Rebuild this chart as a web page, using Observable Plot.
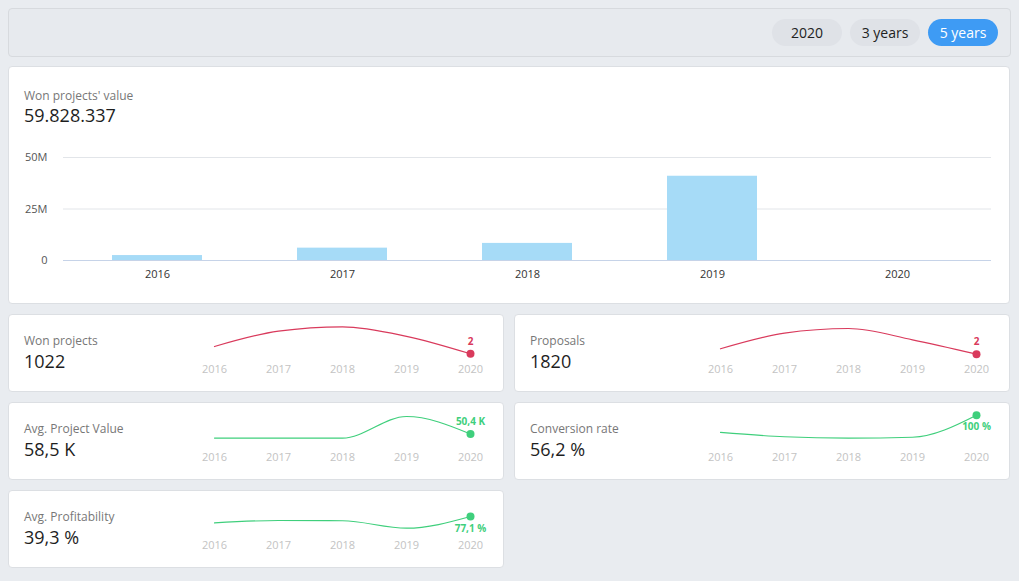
<!DOCTYPE html>
<html>
<head>
<meta charset="utf-8">
<script src="https://cdn.jsdelivr.net/npm/d3@7"></script>
<script src="https://cdn.jsdelivr.net/npm/@observablehq/plot@0.6"></script>
<style>
  html, body { margin: 0; padding: 0; background: #e9ecf0; font-family: "Open Sans", sans-serif; }
  #root { position: relative; width: 1019px; height: 581px; overflow: hidden; }
  .panel { position: absolute; box-sizing: border-box; border: 1px solid #d7dade; border-radius: 4px; }
  .card { position: absolute; box-sizing: border-box; background: #fff; border: 1px solid #dcdfe3; border-radius: 4px; }
  .btn { position: absolute; top: 10px; height: 27px; width: 70px; border-radius: 14px; font-size: 14px; line-height: 27px; text-align: center; background: #dfe2e7; color: #222; }
  .btn.active { background: #3e9bf4; color: #fff; }
  .ttl { position: absolute; left: 15px; font-size: 12px; color: #777; white-space: nowrap; }
  .val { position: absolute; left: 15px; font-size: 18px; color: #1e1e1e; white-space: nowrap; }
  .spark { position: absolute; left: 179px; top: 0; }
  .main { position: absolute; left: -1px; top: 78px; }
</style>
</head>
<body>
<div id="root"></div>
<script>
// ---------- data ----------
const years = ["2016", "2017", "2018", "2019", "2020"];
const rangeButtons = ["2020", "3 years", "5 years"];
const activeButton = "5 years";

const mainTitle = "Won projects' value";
const mainTotal = "59.828.337";
const wonValue = [2.4e6, 6.0e6, 8.3e6, 40.9e6, 0];
const mainTicks = [0, 25e6, 50e6];

const cardTitles = ["Won projects", "Proposals", "Avg. Project Value", "Conversion rate", "Avg. Profitability"];
const cardTotals = ["1022", "1820", "58,5 K", "56,2 %", "39,3 %"];
const wonProjects = [101, 310, 369, 240, 2];
const proposals = [149, 575, 701, 393, 2];
const avgProjectValue = [20.5, 19.5, 20, 177, 50.4];
const conversionRate = [64, 55, 52, 54, 100];
const avgProfitability = [53, 62, 61, 33, 77.1];
const lastLabels = ["2", "2", "50,4 K", "100 %", "77,1 %"];

// ---------- layout ----------
const RED = "#d93a5c", GREEN = "#3fcf7c";
const sparkSeries = [wonProjects, proposals, avgProjectValue, conversionRate, avgProfitability];
const sparkLayout = [
  {left: 8,   top: 314, color: RED,   below: false, yRange: [39.3, 12.3]},
  {left: 514, top: 314, color: RED,   below: false, yRange: [39.7, 14]},
  {left: 8,   top: 402, color: GREEN, below: false, yRange: [35.7, 14]},
  {left: 514, top: 402, color: GREEN, below: true,  yRange: [35.7, 12.7]},
  {left: 8,   top: 490, color: GREEN, below: true,  yRange: [37.7, 26]}
];

const root = document.getElementById("root");
function el(tag, cls, style, text) {
  const e = document.createElement(tag);
  if (cls) e.className = cls;
  if (style) Object.assign(e.style, style);
  if (text != null) e.textContent = text;
  return e;
}

// top panel with buttons
const topPanel = el("div", "panel", {left: "8px", top: "8px", width: "1003px", height: "49px", background: "#e7eaee"});
rangeButtons.forEach((b, i) => {
  topPanel.appendChild(el("div", "btn" + (b === activeButton ? " active" : ""), {left: (763 + i * 78) + "px"}, b));
});
root.appendChild(topPanel);

// main card
const mainCard = el("div", "card", {left: "8px", top: "66px", width: "1002px", height: "238px"});
mainCard.appendChild(el("div", "ttl", {top: "20px"}, mainTitle));
mainCard.appendChild(el("div", "val", {top: "36px"}, mainTotal));

const barData = years.map((y, i) => ({year: y, value: wonValue[i]}));
const mainPlot = Plot.plot({
  width: 1000,
  height: 150,
  marginLeft: 55,
  marginRight: 17,
  marginTop: 12,
  marginBottom: 35,
  style: {fontFamily: "Open Sans", fontSize: "11px", color: "#444", background: "transparent"},
  x: {domain: years, paddingInner: 0.515, paddingOuter: 0.2575, label: null},
  y: {domain: [0, 50e6], label: null},
  marks: [
    Plot.ruleY(mainTicks.filter(d => d > 0), {stroke: "#e2e5e9", strokeWidth: 1}),
    Plot.barY(barData, {x: "year", y: "value", fill: "#a6dbf7"}),
    Plot.ruleY([0], {stroke: "#c6d3e8", strokeWidth: 1.2}),
    Plot.axisY({ticks: mainTicks, tickSize: 0, tickPadding: 16, tickFormat: d => d === 0 ? "0" : (d / 1e6) + "M", fill: "#555", label: null}),
    Plot.axisX({tickSize: 0, tickPadding: 10, fill: "#333", label: null})
  ]
});
const mainWrap = el("div", "main");
mainWrap.appendChild(mainPlot);
mainCard.appendChild(mainWrap);
root.appendChild(mainCard);

// sparkline cards
sparkSeries.forEach((vals, k) => {
  const L = sparkLayout[k];
  const card = el("div", "card", {left: L.left + "px", top: L.top + "px", width: "496px", height: "78px"});
  card.appendChild(el("div", "ttl", {top: "17px"}, cardTitles[k]));
  card.appendChild(el("div", "val", {top: "34px"}, cardTotals[k]));
  const data = years.map((y, i) => ({year: y, value: vals[i]}));
  const last = data[data.length - 1];
  const p = Plot.plot({
    width: 310,
    height: 76,
    marginLeft: 25,
    marginRight: 28,
    marginTop: 0,
    marginBottom: 29,
    style: {fontFamily: "Open Sans", fontSize: "11px", background: "transparent"},
    x: {type: "point", domain: years, padding: 0, label: null},
    y: {domain: d3.extent(vals), range: L.yRange, axis: null},
    marks: [
      Plot.axisX({tickSize: 0, tickPadding: 4, fill: "#c3c3c3", label: null}),
      Plot.line(data, {x: "year", y: "value", curve: "monotone-x", stroke: L.color, strokeWidth: 1.2}),
      Plot.dot([last], {x: "year", y: "value", r: 4, fill: L.color}),
      Plot.text([last], {x: "year", y: "value", text: () => lastLabels[k], dy: L.below ? 12 : -12,
        fill: L.color, fontWeight: "bold", fontSize: 10})
    ]
  });
  const w = el("div", "spark", {top: "-1px"});
  w.appendChild(p);
  card.appendChild(w);
  root.appendChild(card);
});
</script>
</body>
</html>
